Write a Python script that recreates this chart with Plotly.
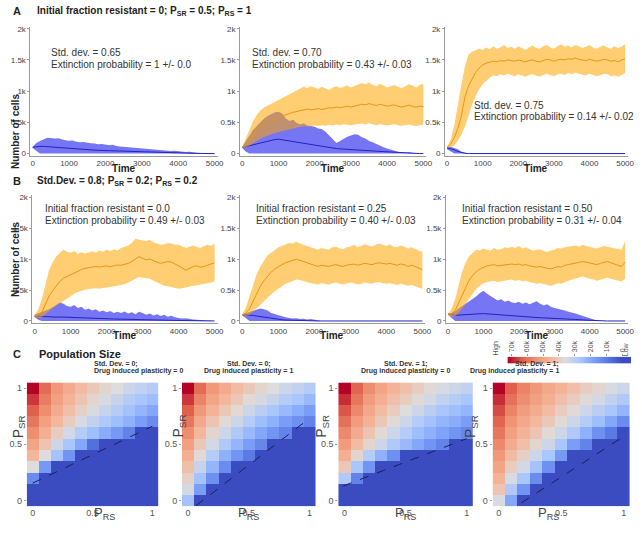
import plotly.graph_objects as go

W, H = 642, 533
FONT = "Arial, Liberation Sans, sans-serif"

# ---------------- time axis (every 100 time units) ----------------
time = list(range(0, 5001, 100))

# ---------------- Panel A1 : Std. dev. 0.65 ----------------
a1_blue_mean = [100, 110, 115, 115, 110, 108, 100, 95, 90, 85, 80, 76, 72, 68, 65, 62, 58, 55, 52, 50, 47, 44, 41, 38, 35, 32, 30, 27, 24, 22, 20, 18, 16, 15, 13, 12, 11, 10, 9, 8, 7, 6, 5, 4, 3, 2, 2, 1, 1, 0, 0]
a1_blue_hi = [110, 170, 200, 230, 255, 250, 240, 245, 225, 215, 205, 210, 190, 180, 185, 170, 165, 160, 150, 155, 140, 135, 140, 120, 115, 110, 105, 100, 95, 80, 85, 70, 75, 60, 55, 60, 50, 45, 40, 45, 35, 30, 25, 30, 20, 12, 10, 6, 4, 2, 0]
a1_blue_lo = [90, 40] + [0] * 49

# ---------------- Panel A2 : Std. dev. 0.70 ----------------
a2_orange_mean = [100, 150, 210, 290, 360, 420, 470, 500, 530, 555, 580, 600, 625, 640, 660, 675, 690, 700, 715, 700, 710, 720, 705, 720, 735, 730, 745, 735, 750, 760, 745, 760, 775, 790, 780, 800, 785, 770, 790, 775, 760, 770, 780, 760, 745, 760, 775, 760, 740, 760, 750]
a2_orange_hi = [110, 250, 380, 520, 620, 690, 740, 770, 800, 830, 860, 900, 930, 960, 990, 1020, 1040, 1070, 1050, 1080, 1060, 1040, 1070, 1050, 1020, 1060, 1080, 1050, 1070, 1090, 1060, 1080, 1100, 1130, 1110, 1140, 1100, 1080, 1120, 1090, 1060, 1080, 1100, 1070, 1050, 1080, 1110, 1090, 1060, 1100, 1120]
a2_orange_lo = [90, 100, 130, 170, 210, 240, 265, 290, 310, 330, 345, 360, 375, 390, 400, 415, 425, 440, 430, 445, 450, 440, 455, 445, 460, 450, 465, 455, 470, 460, 450, 465, 475, 480, 470, 485, 470, 455, 470, 460, 450, 460, 470, 455, 445, 455, 465, 450, 440, 455, 460]
a2_blue_mean = [100, 110, 125, 140, 155, 170, 185, 200, 210, 225, 230, 220, 210, 200, 190, 180, 170, 160, 150, 140, 130, 125, 115, 110, 100, 90, 80, 75, 70, 65, 62, 60, 58, 55, 50, 45, 42, 38, 34, 30, 26, 22, 18, 14, 10, 7, 4, 2, 0, 0, 0]
a2_blue_hi = [110, 200, 300, 380, 440, 500, 560, 600, 630, 660, 670, 640, 560, 520, 540, 490, 470, 480, 450, 440, 430, 400, 390, 350, 290, 220, 170, 200, 240, 270, 290, 310, 300, 260, 240, 200, 180, 150, 120, 100, 80, 60, 45, 30, 20, 12, 20, 8, 0, 0, 0]
a2_blue_lo = [90, 30] + [0] * 49

# ---------------- Panel A3 : Std. dev. 0.75 ----------------
a3_orange_mean = [100, 150, 250, 400, 600, 900, 1080, 1200, 1300, 1370, 1420, 1450, 1460, 1480, 1470, 1490, 1480, 1500, 1490, 1480, 1500, 1490, 1470, 1490, 1500, 1480, 1470, 1490, 1510, 1500, 1480, 1500, 1510, 1500, 1520, 1510, 1530, 1510, 1500, 1490, 1510, 1500, 1480, 1490, 1510, 1500, 1480, 1490, 1470, 1500, 1520]
a3_orange_hi = [110, 220, 450, 800, 1100, 1400, 1580, 1630, 1650, 1680, 1660, 1700, 1670, 1720, 1680, 1700, 1740, 1690, 1710, 1680, 1720, 1690, 1660, 1700, 1730, 1690, 1680, 1720, 1740, 1700, 1680, 1720, 1750, 1710, 1730, 1700, 1740, 1720, 1690, 1710, 1740, 1700, 1680, 1710, 1730, 1700, 1680, 1720, 1690, 1710, 1750]
a3_orange_lo = [90, 100, 130, 200, 300, 430, 600, 780, 920, 1030, 1110, 1170, 1220, 1250, 1240, 1270, 1250, 1280, 1260, 1240, 1270, 1250, 1230, 1260, 1270, 1250, 1230, 1260, 1280, 1260, 1240, 1270, 1280, 1260, 1290, 1270, 1300, 1280, 1260, 1250, 1280, 1260, 1240, 1250, 1280, 1270, 1240, 1250, 1230, 1260, 1290]
a3_blue_mean = [90, 80, 60, 35, 15, 5] + [0] * 45
a3_blue_hi = [110, 110, 90, 70, 30, 10] + [0] * 45
a3_blue_lo = [70, 30] + [0] * 49

# ---------------- Panel B1 : initial fraction resistant 0.0 ----------------
b1_orange_mean = [80, 100, 140, 260, 400, 490, 560, 640, 690, 720, 750, 780, 810, 830, 850, 860, 870, 880, 870, 885, 890, 875, 890, 905, 900, 910, 930, 960, 1000, 1040, 1010, 990, 1000, 970, 950, 930, 940, 960, 950, 920, 900, 860, 820, 850, 880, 890, 870, 880, 900, 920, 940]
b1_orange_hi = [100, 180, 350, 600, 820, 950, 1040, 1100, 1150, 1120, 1100, 1130, 1080, 1110, 1090, 1100, 1130, 1100, 1140, 1120, 1150, 1130, 1160, 1140, 1180, 1200, 1220, 1260, 1330, 1310, 1300, 1290, 1310, 1270, 1250, 1230, 1240, 1260, 1250, 1230, 1230, 1210, 1180, 1200, 1220, 1200, 1180, 1210, 1230, 1210, 1250]
b1_orange_lo = [60, 50, 60, 110, 165, 205, 245, 285, 325, 365, 405, 440, 470, 490, 505, 515, 525, 530, 520, 535, 540, 550, 560, 570, 580, 595, 620, 650, 690, 710, 700, 690, 680, 650, 620, 590, 570, 560, 545, 530, 520, 530, 545, 560, 570, 575, 590, 600, 610, 620, 640]
b1_blue_mean = [80, 75, 70, 68, 65, 63, 62, 65, 62, 60, 58, 55, 52, 50, 48, 46, 44, 42, 40, 38, 36, 34, 32, 30, 28, 27, 25, 24, 22, 21, 20, 18, 17, 16, 15, 13, 12, 11, 10, 9, 8, 7, 6, 5, 4, 3, 2, 2, 1, 0, 0]
b1_blue_hi = [100, 120, 140, 170, 190, 220, 260, 300, 280, 240, 230, 260, 210, 230, 180, 200, 170, 190, 150, 170, 140, 160, 130, 150, 130, 155, 120, 140, 110, 150, 130, 100, 120, 90, 110, 80, 100, 70, 85, 60, 50, 40, 45, 30, 25, 20, 15, 12, 8, 5, 0]
b1_blue_lo = [60, 20] + [0] * 49

# ---------------- Panel B2 : initial fraction resistant 0.25 ----------------
b2_orange_mean = [100, 130, 200, 320, 450, 560, 650, 730, 790, 840, 880, 910, 940, 960, 980, 1000, 980, 960, 930, 910, 890, 880, 900, 890, 880, 900, 910, 890, 880, 900, 910, 920, 900, 910, 930, 920, 910, 930, 940, 930, 920, 930, 910, 900, 920, 910, 880, 900, 880, 850, 830]
b2_orange_hi = [110, 220, 400, 600, 760, 880, 980, 1060, 1100, 1150, 1190, 1210, 1230, 1260, 1250, 1280, 1250, 1230, 1200, 1180, 1160, 1150, 1180, 1170, 1150, 1190, 1200, 1170, 1160, 1190, 1200, 1230, 1190, 1210, 1240, 1220, 1200, 1230, 1250, 1230, 1210, 1240, 1200, 1190, 1220, 1200, 1170, 1190, 1160, 1140, 1120]
b2_orange_lo = [90, 80, 100, 150, 200, 260, 320, 380, 430, 480, 520, 560, 600, 620, 650, 670, 660, 640, 630, 610, 600, 590, 610, 600, 590, 610, 620, 600, 590, 610, 620, 610, 590, 600, 620, 610, 600, 620, 630, 610, 600, 610, 590, 580, 600, 590, 570, 580, 560, 540, 520]
b2_blue_mean = [100, 100, 95, 90, 80, 70, 60, 50, 40, 32, 25, 20, 15, 12, 9, 7, 5, 4, 3, 2, 1] + [0] * 30
b2_blue_hi = [110, 130, 150, 160, 180, 200, 190, 170, 130, 110, 90, 70, 60, 50, 40, 45, 30, 35, 25, 30, 20, 5] + [0] * 29
b2_blue_lo = [90, 40] + [0] * 49

# ---------------- Panel B3 : initial fraction resistant 0.50 ----------------
b3_orange_mean = [100, 120, 170, 300, 430, 560, 660, 740, 800, 840, 870, 890, 900, 910, 890, 900, 910, 915, 920, 910, 920, 900, 910, 890, 880, 870, 880, 860, 850, 840, 860, 880, 870, 900, 910, 920, 930, 940, 960, 950, 940, 920, 910, 930, 950, 960, 940, 920, 900, 880, 950]
b3_orange_hi = [110, 200, 350, 600, 800, 950, 1050, 1100, 1150, 1140, 1170, 1150, 1140, 1180, 1150, 1160, 1190, 1180, 1200, 1180, 1210, 1170, 1190, 1160, 1140, 1150, 1160, 1130, 1120, 1140, 1150, 1180, 1170, 1190, 1200, 1210, 1220, 1200, 1230, 1210, 1200, 1180, 1170, 1190, 1210, 1200, 1190, 1170, 1160, 1150, 1290]
b3_orange_lo = [90, 70, 80, 130, 200, 280, 370, 450, 520, 570, 610, 630, 640, 650, 630, 640, 650, 660, 670, 650, 660, 640, 650, 630, 610, 600, 610, 590, 580, 570, 590, 610, 600, 630, 650, 670, 690, 700, 720, 700, 690, 670, 650, 670, 690, 700, 680, 660, 650, 640, 680]
b3_blue_mean = [110, 100, 95, 95, 100, 100, 105, 110, 115, 118, 120, 115, 110, 105, 100, 95, 90, 85, 80, 75, 70, 68, 65, 60, 58, 55, 52, 50, 48, 45, 42, 40, 37, 35, 32, 30, 26, 22, 18, 14, 10, 5, 2] + [0] * 8
b3_blue_hi = [120, 130, 160, 200, 230, 270, 310, 360, 400, 450, 490, 440, 400, 360, 330, 350, 310, 330, 300, 290, 310, 280, 300, 270, 290, 320, 280, 250, 270, 230, 210, 200, 180, 170, 150, 140, 120, 100, 80, 60, 40, 20, 8] + [0] * 8
b3_blue_lo = [100, 50] + [0] * 49

# ---------------- Panel C heatmaps (population size, thousands) ----------------
p_rs = [0.0, 0.1, 0.2, 0.3, 0.4, 0.5, 0.6, 0.7, 0.8, 0.9, 1.0]
p_sr_top_down = [1.0, 0.9, 0.8, 0.7, 0.6, 0.5, 0.4, 0.3, 0.2, 0.1, 0.0]

c1_sd0_plast0 = [
    [72, 61, 53, 48, 44, 41, 38, 36, 33, 31, 29],
    [67, 58, 51, 46, 42, 38, 35, 32, 29, 27, 25],
    [63, 55, 48, 43, 39, 35, 32, 29, 26, 23, 20],
    [59, 51, 45, 40, 35, 31, 28, 25, 22, 18, 14],
    [55, 47, 40, 34, 29, 25, 21, 17, 12, 0, 0],
    [50, 42, 33, 27, 20, 8, 0, 0, 0, 0, 0],
    [45, 36, 26, 16, 0, 0, 0, 0, 0, 0, 0],
    [36, 17, 0, 0, 0, 0, 0, 0, 0, 0, 0],
    [14, 0, 0, 0, 0, 0, 0, 0, 0, 0, 0],
    [0, 0, 0, 0, 0, 0, 0, 0, 0, 0, 0],
    [0, 0, 0, 0, 0, 0, 0, 0, 0, 0, 0],
]
c2_sd0_plast1 = [
    [72, 61, 53, 48, 44, 41, 38, 36, 33, 31, 29],
    [67, 57, 50, 45, 41, 37, 34, 32, 29, 27, 24],
    [63, 53, 46, 41, 37, 33, 30, 27, 24, 21, 18],
    [59, 49, 42, 37, 33, 29, 25, 22, 18, 15, 12],
    [55, 45, 38, 33, 28, 24, 20, 16, 12, 0, 0],
    [51, 41, 34, 28, 23, 18, 13, 0, 0, 0, 0],
    [47, 37, 29, 22, 16, 10, 0, 0, 0, 0, 0],
    [43, 32, 23, 14, 0, 0, 0, 0, 0, 0, 0],
    [39, 26, 15, 0, 0, 0, 0, 0, 0, 0, 0],
    [34, 18, 0, 0, 0, 0, 0, 0, 0, 0, 0],
    [26, 0, 0, 0, 0, 0, 0, 0, 0, 0, 0],
]
c3_sd1_plast0 = [
    [72, 62, 55, 50, 46, 43, 40, 37, 35, 33, 31],
    [68, 59, 52, 47, 43, 40, 37, 34, 31, 29, 27],
    [64, 56, 49, 44, 40, 36, 33, 30, 27, 25, 23],
    [60, 52, 46, 41, 37, 33, 29, 26, 23, 21, 18],
    [56, 48, 42, 37, 33, 29, 25, 22, 19, 16, 13],
    [52, 44, 38, 33, 28, 24, 20, 16, 12, 0, 0],
    [47, 38, 29, 22, 15, 0, 0, 0, 0, 0, 0],
    [41, 27, 16, 0, 0, 0, 0, 0, 0, 0, 0],
    [28, 12, 0, 0, 0, 0, 0, 0, 0, 0, 0],
    [0, 0, 0, 0, 0, 0, 0, 0, 0, 0, 0],
    [0, 0, 0, 0, 0, 0, 0, 0, 0, 0, 0],
]
c4_sd1_plast1 = [
    [72, 63, 57, 53, 49, 46, 43, 40, 38, 35, 33],
    [68, 60, 55, 51, 47, 43, 40, 37, 34, 31, 28],
    [65, 57, 52, 48, 44, 40, 37, 33, 30, 27, 23],
    [62, 54, 49, 45, 41, 37, 33, 29, 25, 20, 14],
    [59, 51, 46, 42, 37, 33, 28, 22, 15, 10, 0],
    [56, 48, 43, 38, 33, 27, 18, 12, 0, 0, 0],
    [53, 44, 39, 33, 27, 17, 0, 0, 0, 0, 0],
    [50, 40, 34, 26, 15, 0, 0, 0, 0, 0, 0],
    [46, 35, 27, 14, 0, 0, 0, 0, 0, 0, 0],
    [42, 28, 16, 0, 0, 0, 0, 0, 0, 0, 0],
    [35, 20, 0, 0, 0, 0, 0, 0, 0, 0, 0],
]

# dashed extinction boundaries (P_RS, P_SR end points)
c1_boundary_prs = [0.0, 1.0]
c1_boundary_psr = [0.155, 0.66]
c2_boundary_prs = [0.065, 1.0]
c2_boundary_psr = [-0.045, 0.73]
c3_boundary_prs = [-0.01, 1.0]
c3_boundary_psr = [0.13, 0.55]
c4_boundary_prs = [0.18, 1.0]
c4_boundary_psr = [-0.02, 0.57]

colorbar_levels = list(range(-5, 73))
colorbar_ticks = [0, 10, 20, 30, 40, 50, 60, 70]
colorbar_ticktext = ["0", "10k", "20k", "30k", "40k", "50k", "60k", "70k"]

# ---------------- styling ----------------
COOLWARM = [
    [0.0, "rgb(59,76,192)"], [0.125, "rgb(87,117,225)"], [0.25, "rgb(122,158,248)"],
    [0.375, "rgb(170,199,253)"], [0.5, "rgb(221,221,221)"], [0.625, "rgb(245,183,155)"],
    [0.75, "rgb(240,148,118)"], [0.875, "rgb(222,96,77)"], [1.0, "rgb(180,4,38)"],
]
BLUE_FILL = "rgba(60,60,240,0.70)"
BLUE_LINE = "rgb(35,35,190)"
ORANGE_FILL = "rgba(255,165,0,0.55)"
ORANGE_LINE = "rgb(232,150,20)"
AXIS_COLOR = "#9a9a9a"
TICK_FONT = dict(family=FONT, size=8, color="#444")


def px(x):
    return x / W


def py(y):
    return 1 - y / H


def dx(a, b):
    return [px(a), px(b)]


def dy(top, bottom):
    return [py(bottom), py(top)]


fig = go.Figure()
layout = dict(
    width=W, height=H, margin=dict(l=0, r=0, t=0, b=0),
    paper_bgcolor="white", plot_bgcolor="white", showlegend=False,
    font=dict(family=FONT, color="#222"),
)
annotations = []

XR = [-60, 5080]
YR = [-35, 2030]

# (x of t=0, x of t=5000, y of 0 cells, y of 2k cells) in window pixels
panels = [
    (33, 217, 153, 27, a1_blue_lo, a1_blue_mean, a1_blue_hi, None, None, None),
    (245, 428, 153, 27, a2_blue_lo, a2_blue_mean, a2_blue_hi, a2_orange_lo, a2_orange_mean, a2_orange_hi),
    (452, 632, 153, 27, a3_blue_lo, a3_blue_mean, a3_blue_hi, a3_orange_lo, a3_orange_mean, a3_orange_hi),
    (35, 217, 322, 197, b1_blue_lo, b1_blue_mean, b1_blue_hi, b1_orange_lo, b1_orange_mean, b1_orange_hi),
    (245, 427, 322, 197, b2_blue_lo, b2_blue_mean, b2_blue_hi, b2_orange_lo, b2_orange_mean, b2_orange_hi),
    (453, 632, 322, 197, b3_blue_lo, b3_blue_mean, b3_blue_hi, b3_orange_lo, b3_orange_mean, b3_orange_hi),
]

for i, (x0, x5, y0, y2, blo, bmean, bhi, olo, omean, ohi) in enumerate(panels, start=1):
    sfx = "" if i == 1 else str(i)
    kx = (x5 - x0) / 5000.0
    ky = (y0 - y2) / 2000.0
    layout["xaxis" + sfx] = dict(
        domain=dx(x0 + XR[0] * kx, x0 + XR[1] * kx), range=XR, anchor="y" + sfx,
        tickvals=[0, 1000, 2000, 3000, 4000, 5000], tickfont=TICK_FONT,
        showline=True, linecolor=AXIS_COLOR, linewidth=1, ticks="",
        showgrid=False, zeroline=False,
    )
    layout["yaxis" + sfx] = dict(
        domain=dy(y0 - YR[1] * ky, y0 - YR[0] * ky), range=YR, anchor="x" + sfx,
        tickvals=[0, 500, 1000, 1500, 2000], ticktext=["0", "0.5k", "1k", "1.5k", "2k"],
        tickfont=TICK_FONT, showline=True, linecolor=AXIS_COLOR, linewidth=1,
        ticks="outside", ticklen=2, tickcolor=AXIS_COLOR, showgrid=False, zeroline=False,
    )
    xa, ya = "x" + sfx, "y" + sfx
    fig.add_trace(go.Scatter(x=time, y=blo, mode="lines", line=dict(width=0), xaxis=xa, yaxis=ya, hoverinfo="skip"))
    fig.add_trace(go.Scatter(x=time, y=bhi, mode="lines", line=dict(width=0), fill="tonexty",
                             fillcolor=BLUE_FILL, xaxis=xa, yaxis=ya, hoverinfo="skip"))
    fig.add_trace(go.Scatter(x=time, y=bmean, mode="lines", line=dict(width=1, color=BLUE_LINE), xaxis=xa, yaxis=ya))
    if olo is not None:
        fig.add_trace(go.Scatter(x=time, y=olo, mode="lines", line=dict(width=0), xaxis=xa, yaxis=ya, hoverinfo="skip"))
        fig.add_trace(go.Scatter(x=time, y=ohi, mode="lines", line=dict(width=0), fill="tonexty",
                                 fillcolor=ORANGE_FILL, xaxis=xa, yaxis=ya, hoverinfo="skip"))
        fig.add_trace(go.Scatter(x=time, y=omean, mode="lines", line=dict(width=1, color=ORANGE_LINE), xaxis=xa, yaxis=ya))
    annotations.append(dict(text="<b>Time</b>", x=px((x0 + x5) / 2), y=py(y0 + 15),
                            xref="paper", yref="paper", showarrow=False, xanchor="center", yanchor="middle",
                            font=dict(family=FONT, size=10, color="#222")))

# ---------------- heatmaps ----------------
heat = [
    (27, 160, c1_sd0_plast0, c1_boundary_prs, c1_boundary_psr, "Std. Dev. = 0;", "Drug induced plasticity = 0", 8),
    (184, 319, c2_sd0_plast1, c2_boundary_prs, c2_boundary_psr, "Std. Dev. = 0;", "Drug induced plasticity = 1", 170),
    (342, 478, c3_sd1_plast0, c3_boundary_prs, c3_boundary_psr, "Std. Dev. = 1;", "Drug induced plasticity = 0", 326),
    (498, 637, c4_sd1_plast1, c4_boundary_prs, c4_boundary_psr, "Std. Dev. = 1;", "Drug induced plasticity = 1", 488),
]
HT, HB = 384, 509
for j, (l, r, zrows, bx, by, t1, t2, ytx) in enumerate(heat, start=7):
    sfx = str(j)
    layout["xaxis" + sfx] = dict(
        domain=dx(l, r), range=[-0.05, 1.05], anchor="y" + sfx, tickvals=[0, 0.5, 1],
        ticktext=["0", "0.5", "1"], tickfont=dict(family=FONT, size=9, color="#555"),
        ticks="", showline=False, showgrid=False, zeroline=False,
    )
    layout["yaxis" + sfx] = dict(
        domain=dy(HT, HB), range=[-0.05, 1.05], anchor="x" + sfx, tickvals=[0, 0.5, 1],
        ticktext=["0", "0.5", "1"], tickfont=dict(family=FONT, size=9, color="#555"),
        ticks="outside", ticklen=2, tickcolor=AXIS_COLOR, showline=False, showgrid=False, zeroline=False,
    )
    fig.add_trace(go.Heatmap(z=zrows[::-1], x=p_rs, y=p_sr_top_down[::-1], colorscale=COOLWARM,
                             zmin=0, zmax=72, showscale=False, xaxis="x" + sfx, yaxis="y" + sfx))
    fig.add_trace(go.Scatter(x=bx, y=by, mode="lines", line=dict(color="#1a1f55", width=1, dash="dash"),
                             xaxis="x" + sfx, yaxis="y" + sfx))
    cx = px((l + r) / 2)
    annotations.append(dict(text="<b>" + t1 + "</b>", x=cx, y=py(371.5), xref="paper", yref="paper",
                            showarrow=False, font=dict(family=FONT, size=7, color="#333")))
    annotations.append(dict(text="<b>" + t2 + "</b>", x=cx, y=py(378.5), xref="paper", yref="paper",
                            showarrow=False, font=dict(family=FONT, size=7, color="#333")))
    annotations.append(dict(text="P<sub>RS</sub>", x=cx, y=py(527), xref="paper", yref="paper",
                            showarrow=False, font=dict(family=FONT, size=13, color="#444")))
    annotations.append(dict(text="P<sub>SR</sub>", x=px(ytx), y=py(442), xref="paper", yref="paper",
                            showarrow=False, textangle=-90, font=dict(family=FONT, size=14, color="#444")))

# ---------------- colour bar ----------------
layout["xaxis11"] = dict(domain=dx(513, 638), range=[72.5, -5.5], anchor="y11", side="top",
                         tickvals=colorbar_ticks, ticktext=colorbar_ticktext, tickangle=-90,
                         tickfont=dict(family=FONT, size=7, color="#555"), ticks="outside", ticklen=2,
                         tickcolor=AXIS_COLOR, showline=False, showgrid=False, zeroline=False)
layout["yaxis11"] = dict(domain=dy(358, 365), range=[-0.5, 0.5], anchor="x11", visible=False)
fig.add_trace(go.Heatmap(z=[colorbar_levels], x=colorbar_levels, y=[0], colorscale=COOLWARM, zmin=0, zmax=72,
                         showscale=False, xaxis="x11", yaxis="y11", hoverinfo="skip"))
annotations.append(dict(text="High", x=px(508), y=py(359), xref="paper", yref="paper", showarrow=False,
                        textangle=-90, font=dict(family=FONT, size=7, color="#555")))
annotations.append(dict(text="Low", x=px(638), y=py(360), xref="paper", yref="paper", showarrow=False,
                        textangle=-90, font=dict(family=FONT, size=7, color="#555")))


# ---------------- text annotations ----------------
def txt(s, x, y, size, bold=False, anchor="left", color="#222"):
    annotations.append(dict(text=("<b>" + s + "</b>") if bold else s, x=px(x), y=py(y),
                            xref="paper", yref="paper", showarrow=False, xanchor=anchor, yanchor="middle",
                            font=dict(family=FONT, size=size, color=color)))


txt("A", 11, 9, 11, bold=True)
txt("Initial fraction resistant = 0; P<sub>SR</sub> = 0.5; P<sub>RS</sub> = 1", 35, 9, 10, bold=True)
txt("B", 11, 181, 11, bold=True)
txt("Std.Dev. = 0.8; P<sub>SR</sub> = 0.2; P<sub>RS</sub> = 0.2", 35, 181, 10, bold=True)
txt("C", 11, 355, 11, bold=True)
txt("Population Size", 37, 355, 11, bold=True)

ANN = 10
ANC = "#333"
txt("Std. dev. = 0.65", 50, 51, ANN, color=ANC)
txt("Extinction probability = 1 +/- 0.0", 50, 63, ANN, color=ANC)
txt("Std. dev. = 0.70", 253, 51, ANN, color=ANC)
txt("Extinction probability = 0.43 +/- 0.03", 253, 63, ANN, color=ANC)
txt("Std. dev. = 0.75", 477, 104, ANN, color=ANC)
txt("Extinction probability = 0.14 +/- 0.02", 477, 116, ANN, color=ANC)
txt("Initial fraction resistant = 0.0", 43, 208, ANN, color=ANC)
txt("Extinction probability = 0.49 +/- 0.03", 43, 221, ANN, color=ANC)
txt("Initial fraction resistant = 0.25", 257, 208, ANN, color=ANC)
txt("Extinction probability = 0.40 +/- 0.03", 257, 221, ANN, color=ANC)
txt("Initial fraction resistant = 0.50", 465, 208, ANN, color=ANC)
txt("Extinction probability = 0.31 +/- 0.04", 465, 221, ANN, color=ANC)

for yc in (91, 260):
    annotations.append(dict(text="<b>Number of cells</b>", x=px(8), y=py(yc), xref="paper", yref="paper",
                            showarrow=False, textangle=-90, font=dict(family=FONT, size=10, color="#222")))

layout["annotations"] = annotations
fig.update_layout(**layout)
# the browser's default 8px page margin would push the 642x533 figure out of the window
fig.write_html("out.html", config={"staticPlot": True},
               post_script="document.body.style.margin='0';")
